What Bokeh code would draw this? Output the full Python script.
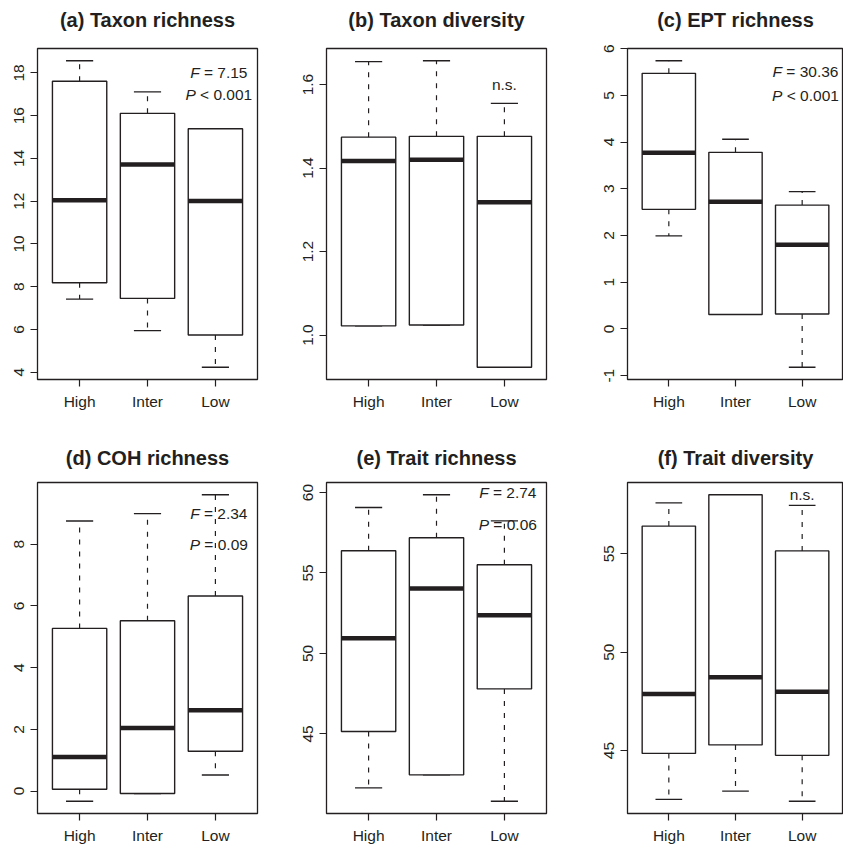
from bokeh.plotting import figure
from bokeh.layouts import column, row
from bokeh.models import FixedTicker, Range1d, NumeralTickFormatter, Title
from bokeh.core.properties import value
from bokeh.embed import file_html
from bokeh.resources import INLINE

groups = ["High", "Inter", "Low"]

# (a) Taxon richness
ta_lower = [7.42, 5.94, 4.23]
ta_q1 = [8.18, 7.45, 5.74]
ta_med = [12.04, 13.72, 12.01]
ta_q3 = [17.61, 16.11, 15.39]
ta_upper = [18.57, 17.11, 15.39]

# (b) Taxon diversity
td_lower = [1.022, 1.024, 0.923]
td_q1 = [1.022, 1.024, 0.923]
td_med = [1.417, 1.420, 1.318]
td_q3 = [1.474, 1.476, 1.476]
td_upper = [1.655, 1.657, 1.555]

# (c) EPT richness
ept_lower = [1.99, 0.31, -0.82]
ept_q1 = [2.56, 0.31, 0.32]
ept_med = [3.77, 2.72, 1.80]
ept_q3 = [5.47, 3.78, 2.65]
ept_upper = [5.74, 4.06, 2.94]

# (d) COH richness
coh_lower = [-0.33, -0.08, 0.52]
coh_q1 = [0.06, -0.08, 1.29]
coh_med = [1.10, 2.04, 2.62]
coh_q3 = [5.27, 5.52, 6.32]
coh_upper = [8.75, 8.99, 9.60]

# (e) Trait richness
tr_lower = [41.65, 42.46, 40.82]
tr_q1 = [45.15, 42.46, 47.80]
tr_med = [50.94, 54.04, 52.37]
tr_q3 = [56.38, 57.19, 55.51]
tr_upper = [59.07, 59.86, 58.24]

# (f) Trait diversity
tdv_lower = [42.52, 42.94, 42.43]
tdv_q1 = [44.86, 45.29, 44.76]
tdv_med = [47.87, 48.72, 47.99]
tdv_q3 = [56.40, 57.99, 55.14]
tdv_upper = [57.58, 57.99, 57.45]

titles = ["(a) Taxon richness", "(b) Taxon diversity", "(c) EPT richness",
          "(d) COH richness", "(e) Trait richness", "(f) Trait diversity"]

y_ticks = [[4, 6, 8, 10, 12, 14, 16, 18], [1.0, 1.2, 1.4, 1.6], [-1, 0, 1, 2, 3, 4, 5, 6],
           [0, 2, 4, 6, 8], [45, 50, 55, 60], [45, 50, 55]]
y_formats = ["0", "0.0", "0", "0", "0", "0"]

# annotations: (italic letter, rest, x, y)
annots = [
    [("F", " = 7.15", 3.05, 18.0), ("P", " < 0.001", 3.05, 17.0)],
    [("", "n.s.", 3.0, 1.6)],
    [("F", " = 30.36", 3.05, 5.5), ("P", " < 0.001", 3.05, 5.0)],
    [("F", " = 2.34", 3.05, 9.0), ("P", " = 0.09", 3.05, 8.0)],
    [("F", " = 2.74", 3.05, 60.0), ("P", " = 0.06", 3.05, 58.0)],
    [("", "n.s.", 3.0, 58.0)],
]

stats = [
    (ta_lower, ta_q1, ta_med, ta_q3, ta_upper),
    (td_lower, td_q1, td_med, td_q3, td_upper),
    (ept_lower, ept_q1, ept_med, ept_q3, ept_upper),
    (coh_lower, coh_q1, coh_med, coh_q3, coh_upper),
    (tr_lower, tr_q1, tr_med, tr_q3, tr_upper),
    (tdv_lower, tdv_q1, tdv_med, tdv_q3, tdv_upper),
]

INK = "#231f20"
FONT = "Liberation Sans"
FS = 15.5
CW = {'F': .611, 'P': .667, ' ': .278, '=': .584, '<': .584, '.': .278, 'n': .556, 's': .5}


def tw(s):
    return sum(CW.get(ch, .556) for ch in s) * FS


# layout geometry: (min_border_left, frame_width, min_border_right)
cols = [(37, 220, 33), (36, 220, 29), (52, 216, 0)]
rows_geo = [(48, 331, 51, 15), (52, 331, 31, 11)]  # top, frame h, bottom, spacer standoff

figs = []
for i in range(6):
    r, c = divmod(i, 3)
    lower, q1, med, q3, upper = stats[i]
    lo = min(lower)
    hi = max(upper)
    ext = (hi - lo) * 0.04
    bl, fw, br = cols[c]
    bt, fh, bb, sp = rows_geo[r]
    p = figure(frame_width=fw, frame_height=fh, output_backend="svg", toolbar_location=None,
               x_range=Range1d(0.38, 3.62), y_range=Range1d(lo - ext, hi + ext),
               min_border_left=bl, min_border_right=br, min_border_top=bt, min_border_bottom=bb,
               title=titles[i])
    p.title.text_font = FONT
    p.title.text_font_size = "20px"
    p.title.text_font_style = "bold"
    p.title.text_color = INK
    p.title.align = "center"
    p.title.standoff = 0
    # blank spacer between title and frame
    p.add_layout(Title(text=" ", text_font_size="1px", standoff=sp), "above")
    p.grid.visible = False
    p.outline_line_color = INK
    p.outline_line_width = 1.3
    p.background_fill_color = "white"
    p.border_fill_color = "white"

    xs = [1, 2, 3]
    p.segment(x0=xs, y0=q3, x1=xs, y1=upper, line_color=INK, line_width=1.2, line_dash="5 7")
    p.segment(x0=xs, y0=q1, x1=xs, y1=lower, line_color=INK, line_width=1.2, line_dash="5 7")
    p.segment(x0=[x - 0.2 for x in xs], y0=upper, x1=[x + 0.2 for x in xs], y1=upper,
              line_color=INK, line_width=1.3)
    p.segment(x0=[x - 0.2 for x in xs], y0=lower, x1=[x + 0.2 for x in xs], y1=lower,
              line_color=INK, line_width=1.3)
    p.vbar(x=xs, bottom=q1, top=q3, width=0.8, fill_color="white", line_color=INK, line_width=1.4)
    p.segment(x0=[x - 0.4 for x in xs], y0=med, x1=[x + 0.4 for x in xs], y1=med,
              line_color=INK, line_width=4.5, line_cap="butt")

    for letter, rest, ax, ay in annots[i]:
        total = tw(letter + rest)
        split = -total / 2 + tw(letter)
        if letter:
            p.text(x=[ax], y=[ay], text=[letter], text_font=value(FONT), text_font_size=f"{FS}px",
                   text_font_style="italic", text_align="right", text_baseline="middle",
                   x_offset=split, text_color=INK)
        p.text(x=[ax], y=[ay], text=[rest.replace(" ", "\u00a0")], text_font=value(FONT),
               text_font_size=f"{FS}px", text_align="left", text_baseline="middle",
               x_offset=split, text_color=INK)

    p.xaxis.ticker = FixedTicker(ticks=xs)
    p.xaxis.major_label_overrides = {x: g for x, g in zip(xs, groups)}
    p.yaxis.ticker = FixedTicker(ticks=y_ticks[i])
    p.yaxis.formatter = NumeralTickFormatter(format=y_formats[i])
    p.yaxis.major_label_orientation = "vertical"
    for ax in (p.xaxis[0], p.yaxis[0]):
        ax.axis_line_color = None
        ax.major_tick_line_color = INK
        ax.major_tick_line_width = 1.2
        ax.major_tick_out = 7
        ax.major_tick_in = 0
        ax.minor_tick_line_color = None
        ax.major_label_text_font = FONT
        ax.major_label_text_font_size = f"{FS}px"
        ax.major_label_text_color = INK
    p.xaxis.major_label_standoff = 6
    p.yaxis.major_label_standoff = 6
    figs.append(p)

layout = column(row(*figs[:3]), row(*figs[3:]))
open("out.html", "w").write(file_html(layout, INLINE))
